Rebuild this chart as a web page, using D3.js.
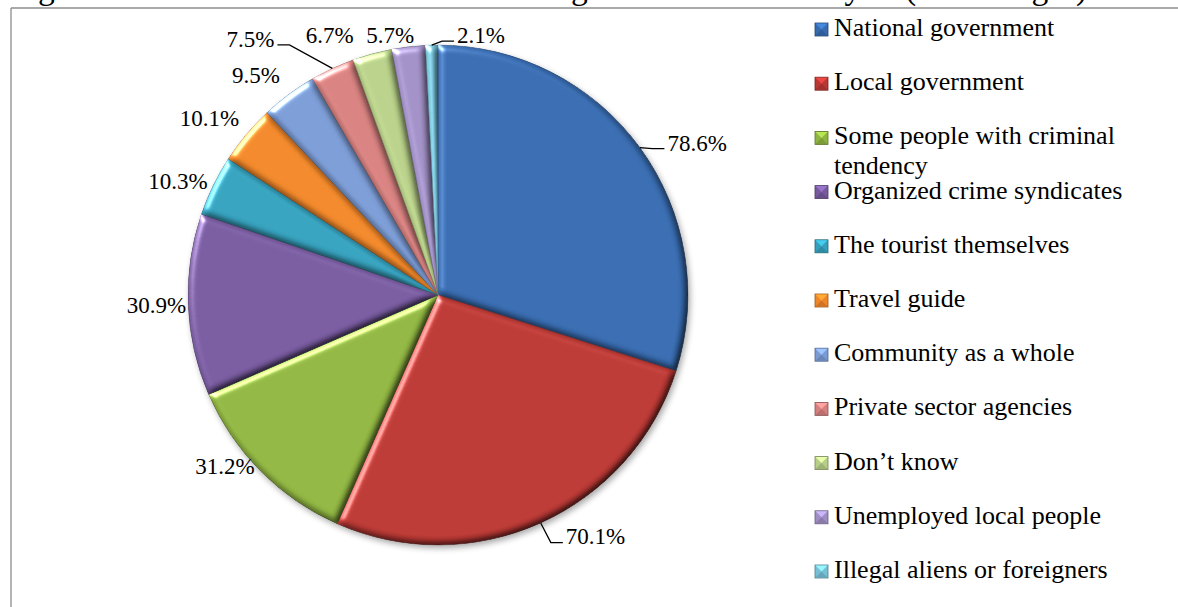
<!DOCTYPE html>
<html>
<head>
<meta charset="utf-8">
<script src="https://cdn.jsdelivr.net/npm/d3@7"></script>
<style>
  html, body { margin: 0; padding: 0; background: #fff; overflow: hidden; }
  svg { display: block; font-family: "Liberation Serif", "Times New Roman", serif; }
</style>
</head>
<body>
<svg id="chart" width="1178" height="607"></svg>
<script>
// ---- data ----
const titleText = "Figure 3: Individuals accused of increasing tourism crime in Syria (Percentages)";
const categories = [
  "National government",
  "Local government",
  "Some people with criminal tendency",
  "Organized crime syndicates",
  "The tourist themselves",
  "Travel guide",
  "Community as a whole",
  "Private sector agencies",
  "Don\u2019t know",
  "Unemployed local people",
  "Illegal aliens or foreigners"
];
const values = [78.6, 70.1, 31.2, 30.9, 10.3, 10.1, 9.5, 7.5, 6.7, 5.7, 2.1];

// ---- styling / layout ----
const colors = ["#376aae", "#b93834", "#8fb441", "#775a9e", "#35a0bc", "#ef8629",
                "#7a9ad3", "#d5807e", "#b6ce87", "#9f8ec3", "#76c0d6"];
const W = 1178, H = 607;
const cx = 438, cy = 295, R = 250;
const labelFont = 23, legendFont = 26;
// fine placement of the data labels relative to their outside-end spot
const labelNudge = [[30, 4], [41, 0], [-12, -16], [2, 0], [-5, 2], [-11, -7],
                    [-16, -7], [-70, -16], [-35, -4], [-15, 3], [50, 5]];
const withLeader = [true, true, false, false, false, false, false, true, false, false, true];

const svg = d3.select("#chart");
const defs = svg.append("defs");

// soft bevel on every slice
const f = defs.append("filter").attr("id", "bevel")
  .attr("color-interpolation-filters", "sRGB")
  .attr("x", "-10%").attr("y", "-10%").attr("width", "120%").attr("height", "120%");
f.append("feGaussianBlur").attr("in", "SourceAlpha").attr("stdDeviation", 3.5).attr("result", "b");
f.append("feDiffuseLighting").attr("in", "b").attr("surfaceScale", 4)
  .attr("diffuseConstant", 1.0 / Math.sin(Math.PI / 3)).attr("lighting-color", "#ffffff").attr("result", "d")
  .append("feDistantLight").attr("azimuth", 225).attr("elevation", 60);
f.append("feComposite").attr("in", "SourceGraphic").attr("in2", "d")
  .attr("operator", "arithmetic").attr("k1", 1).attr("result", "m");
f.append("feSpecularLighting").attr("in", "b").attr("surfaceScale", 4)
  .attr("specularConstant", 0.7).attr("specularExponent", 25)
  .attr("lighting-color", "#ffffff").attr("result", "s")
  .append("feDistantLight").attr("azimuth", 225).attr("elevation", 30);
f.append("feComposite").attr("in", "s").attr("in2", "SourceAlpha").attr("operator", "in").attr("result", "s2");
f.append("feComposite").attr("in", "m").attr("in2", "s2").attr("operator", "arithmetic")
  .attr("k2", 1).attr("k3", 1).attr("result", "o");
f.append("feComposite").attr("in", "o").attr("in2", "SourceAlpha").attr("operator", "in");

// drop shadow under the pie
const sh = defs.append("filter").attr("id", "shadow")
  .attr("x", "-20%").attr("y", "-20%").attr("width", "140%").attr("height", "140%");
sh.append("feGaussianBlur").attr("stdDeviation", 3);

// ---- frame and clipped title ----
svg.append("text")
  .attr("x", 10).attr("y", -1)
  .attr("font-size", 33.5).attr("fill", "#000")
  .text(titleText);
svg.append("line").attr("x1", 11).attr("x2", W).attr("y1", 8).attr("y2", 8)
  .attr("stroke", "#8c8c8c").attr("stroke-width", 1.3);
svg.append("line").attr("x1", 11).attr("x2", 11).attr("y1", 8).attr("y2", H)
  .attr("stroke", "#8c8c8c").attr("stroke-width", 1.3);

// ---- pie ----
const pie = d3.pie().sort(null).value(d => d)(values);
const arc = d3.arc().innerRadius(0).outerRadius(R);
const g = svg.append("g").attr("transform", `translate(${cx},${cy})`);

g.append("circle").attr("cx", 2).attr("cy", 3).attr("r", R)
  .attr("fill", "#000").attr("opacity", 0.35).attr("filter", "url(#shadow)");

g.selectAll("path.slice").data(pie).join("path")
  .attr("class", "slice")
  .attr("d", arc)
  .attr("fill", (d, i) => colors[i])
  .attr("stroke", (d, i) => d3.color(colors[i]).darker(1))
  .attr("stroke-width", 0.8)
  .attr("filter", "url(#bevel)");

// ---- data labels ----
const fmt = v => v.toFixed(1) + "%";
const lg = svg.append("g").attr("font-size", labelFont).attr("fill", "#000");
pie.forEach((d, i) => {
  const a = (d.startAngle + d.endAngle) / 2;
  const s = Math.sin(a), c = Math.cos(a);
  const t = lg.append("text").attr("text-anchor", "middle").text(fmt(values[i]));
  const w = t.node().getComputedTextLength();
  const h = 22;
  const x = cx + (R + 4) * s + (w / 2) * s + labelNudge[i][0];
  const y = cy - (R + 4) * c - (h / 2) * c + labelNudge[i][1];
  t.attr("x", x).attr("y", y + labelFont * 0.34);
  if (withLeader[i]) {
    const ex = cx + R * s, ey = cy - R * c;
    const right = x > ex;
    const side = right ? x - w / 2 - 3 : x + w / 2 + 3;
    const ly = y + 6;
    const elbow = right ? side - 12 : side + 12;
    lg.append("polyline")
      .attr("points", [[ex, ey], [elbow, ly], [side, ly]].map(p => p.join(",")).join(" "))
      .attr("fill", "none").attr("stroke", "#000").attr("stroke-width", 1.3);
  }
});

// ---- legend ----
const legX = 815, legBase0 = 36, legStep = 54.2, maxW = 300;
const leg = svg.append("g").attr("font-size", legendFont).attr("fill", "#000");
categories.forEach((name, i) => {
  const base = legBase0 + i * legStep;
  const col = d3.color(colors[i]);
  const m = leg.append("g").attr("transform", `translate(${legX},${base - 13})`);
  m.append("rect").attr("width", 13).attr("height", 13)
    .attr("fill", col).attr("stroke", col.darker(1.2)).attr("stroke-width", 0.8);
  m.append("polygon").attr("points", "0.5,0.5 12.5,0.5 6.5,6.5")
    .attr("fill", col.brighter(0.7));
  m.append("polygon").attr("points", "0.5,12.5 12.5,12.5 6.5,6.5")
    .attr("fill", col.darker(0.4));
  // word wrap
  const t = leg.append("text").attr("x", legX + 19).attr("y", base);
  const words = name.split(" ");
  let line = [], ts = t.append("tspan").attr("x", legX + 19).attr("dy", 0);
  words.forEach(wd => {
    line.push(wd);
    ts.text(line.join(" "));
    if (ts.node().getComputedTextLength() > maxW && line.length > 1) {
      line.pop();
      ts.text(line.join(" "));
      line = [wd];
      ts = t.append("tspan").attr("x", legX + 19).attr("dy", 30).text(wd);
    }
  });
});
</script>
</body>
</html>
